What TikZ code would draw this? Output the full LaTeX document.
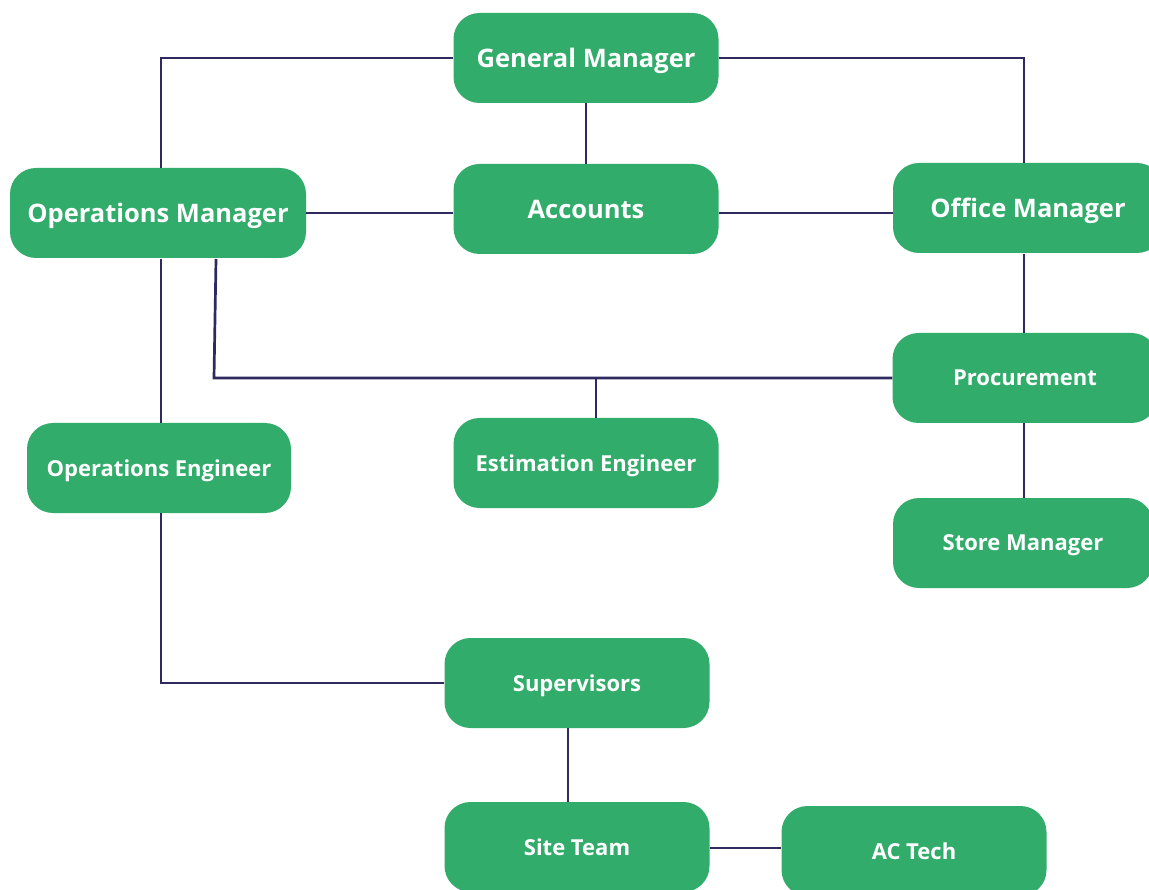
\documentclass[tikz,border=0pt]{standalone}
\usepackage{fontspec}
\setmainfont{Open Sans}
\usepackage{tikz}
\usetikzlibrary{arrows}
\definecolor{boxgreen}{RGB}{50,172,106}
\definecolor{linknavy}{RGB}{46,42,95}

\begin{document}
\begin{tikzpicture}[x=1pt,y=-1pt]
\tikzset{role/.style = {shape=rectangle,rounded corners=26pt,fill=boxgreen,text=white,
  minimum width=265pt,minimum height=90pt,inner sep=0pt,text depth=0pt,
  font=\bfseries\fontsize{22}{26}\selectfont}}
\tikzset{bigrole/.style = {role,font=\bfseries\fontsize{25.5}{30}\selectfont}}
\tikzset{link/.style = {draw=linknavy,line width=2.7pt}}
\clip (0,0) rectangle (1149,890);
\useasboundingbox (0,0) rectangle (1149,890);
% vertices
\node[bigrole] (gm) at (586,58) {General Manager};
\node[bigrole] (acc) at (586,209) {Accounts};
\node[bigrole,minimum width=296pt] (om) at (158,213) {Operations Manager};
\node[bigrole,minimum width=270pt] (ofm) at (1028,208) {Office Manager};
\node[role] (proc) at (1025,378) {Procurement};
\node[role,minimum width=260pt] (store) at (1023,543) {Store Manager};
\node[role,minimum width=264pt] (oe) at (159,468) {Operations Engineer};
\node[role] (ee) at (586,463) {Estimation Engineer};
\node[role] (sup) at (577,683) {Supervisors};
\node[role] (site) at (577,847) {Site Team};
\node[role] (ac) at (914,851) {AC Tech};
\coordinate (bend) at (214,378);
\coordinate (tee) at (596,378);
%edges
\draw[link] (gm.west) -| (161,168);
\draw[link] (gm.east) -| (1024,163);
\draw[link] (gm) -- (acc);
\draw[link] (om.east |- 0,213) -- (acc.west |- 0,213);
\draw[link] (acc.east |- 0,213) -- (ofm.west |- 0,213);
\draw[link] (1024,254) -- (1024,333);
\draw[link] (1024,423) -- (1024,498);
\draw[link] (216,259) -- (bend) -- (proc.west);
\draw[link] (tee) -- (596,418);
\draw[link] (161,259) -- (161,423);
\draw[link] (161,513) |- (sup.west);
\draw[link] (568,728) -- (568,802);
\draw[link] (site.east |- 0,848) -- (ac.west |- 0,848);
\end{tikzpicture}
\end{document}
